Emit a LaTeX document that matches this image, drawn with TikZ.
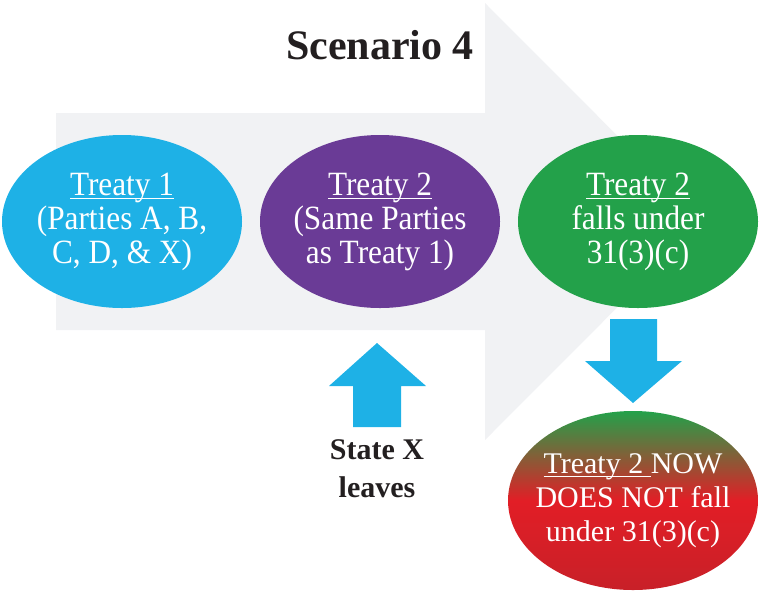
\documentclass[tikz,border=0pt]{standalone}
\usepackage{fontspec}
\setmainfont{Liberation Serif}
\newfontfamily\condfont[FakeStretch=0.92]{Liberation Serif}
\usepackage{tikz}
\usetikzlibrary{shapes.geometric}
\definecolor{treatyblue}{RGB}{30,177,230}
\definecolor{treatypurple}{RGB}{106,59,150}
\definecolor{treatygreen}{RGB}{35,161,74}
\definecolor{treatyred}{RGB}{226,30,38}
\definecolor{treatydarkred}{RGB}{200,32,40}
\definecolor{arrowgray}{RGB}{241,242,244}
\definecolor{inkblack}{RGB}{35,31,32}
% thicker underline for the treaty headings
\newcommand{\headline}[1]{\setbox0\hbox{#1}\rlap{\rule[-4pt]{\wd0}{1.5pt}}\box0}

\begin{document}
\begin{tikzpicture}[x=1pt,y=-1pt,
    treaty/.style={ellipse, minimum width=240pt, minimum height=173pt,
        inner xsep=-20pt, inner ysep=0pt,
        align=center, text=white, font=\condfont\fontsize{34}{34}\selectfont},
    blockarrow/.style={fill=treatyblue}]
    \useasboundingbox (0,0) rectangle (759,592);
    % Background Arrow
    \fill[arrowgray] (56,113) -- (485,113) -- (485,3) -- (703,221.5)
        -- (485,440) -- (485,330) -- (56,330) -- cycle;
    % Title
    \node[font=\bfseries\fontsize{42}{44}\selectfont, text=inkblack] (title) at (380,45) {Scenario 4};
    % Treaties Along the Arrow
    \node[treaty, fill=treatyblue] (treatyone) at (122,221.5)
        {\headline{Treaty 1}\\(Parties A, B,\\C, D, \& X)};
    \node[treaty, fill=treatypurple] (treatytwo) at (380,221.5)
        {\headline{Treaty 2}\\(Same Parties\\as Treaty 1)};
    \node[treaty, fill=treatygreen] (treatyfalls) at (638,221.5)
        {\headline{Treaty 2}\\falls under\\31(3)(c)};
    % Outcome
    \node[treaty, minimum width=250pt, minimum height=179pt,
        top color=treatygreen, bottom color=treatydarkred, middle color=treatyred,
        font=\fontsize{30}{34}\selectfont] (treatynot) at (633,500.5)
        {\headline{Treaty 2\ }NOW\\DOES NOT fall\\under 31(3)(c)};
    % State X Leaving
    \node[font=\bfseries\fontsize{30}{38}\selectfont, text=inkblack, align=center] (leaves) at (377,469)
        {State X\\leaves};
    % Block Arrows
    \fill[blockarrow] (353,427) -- (401,427) -- (401,386) -- (426,386)
        -- (377,343) -- (329,386) -- (353,386) -- cycle;
    \fill[blockarrow] (610,319) -- (657,319) -- (657,361) -- (682,361)
        -- (633,403) -- (585,361) -- (610,361) -- cycle;
\end{tikzpicture}
\end{document}
